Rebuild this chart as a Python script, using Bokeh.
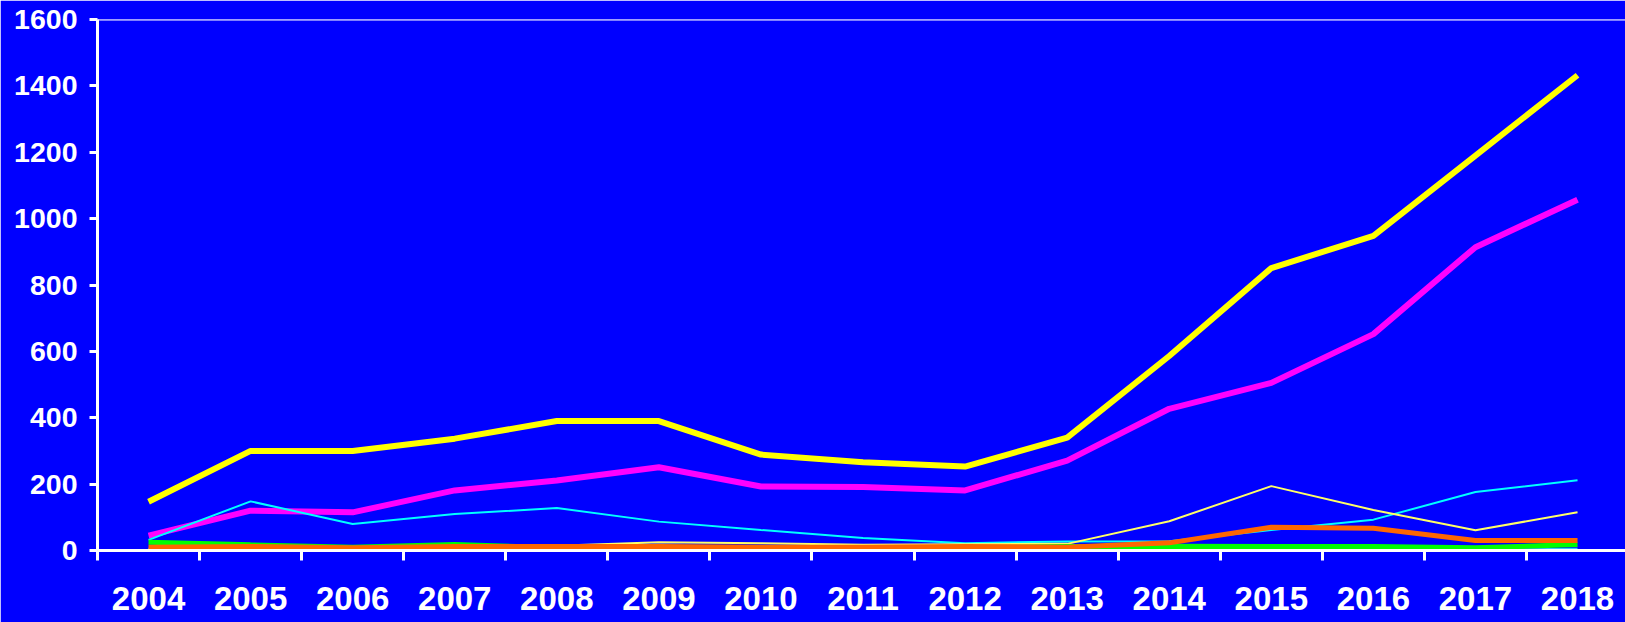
from bokeh.plotting import figure
from bokeh.models import Range1d, FixedTicker, Span
from bokeh.embed import file_html
from bokeh.resources import INLINE

years = [2004, 2005, 2006, 2007, 2008, 2009, 2010, 2011, 2012, 2013, 2014, 2015, 2016, 2017, 2018]
year_labels = [str(y) for y in years]
y_ticks = [0, 200, 400, 600, 800, 1000, 1200, 1400, 1600]

s_yellow = [147, 300, 300, 337, 390, 390, 289, 266, 253, 340, 586, 851, 948, 1190, 1432]
s_magenta = [45, 120, 115, 181, 211, 251, 193, 191, 181, 271, 427, 505, 652, 914, 1057]
s_cyan = [32, 148, 80, 110, 128, 87, 62, 38, 22, 27, 28, 62, 93, 176, 212]
s_pale = [5, 6, 7, 12, 14, 25, 22, 17, 19, 20, 88, 194, 122, 61, 115]
s_orange = [10, 12, 8, 12, 12, 12, 10, 10, 12, 10, 23, 70, 67, 30, 30]
s_green = [25, 17, 10, 18, 8, 5, 5, 6, 8, 12, 13, 12, 12, 8, 18]
s_lightblue = [3, 3, 2, 3, 3, 2, 2, 3, 3, 5, 5, 3, 4, 3, 5]

BG = "#0000FF"
p = figure(width=1625, height=622, output_backend="svg", toolbar_location=None,
           x_range=Range1d(2003.5, 2018.47), y_range=Range1d(0, 1600),
           min_border_left=97, min_border_right=0, min_border_top=19, min_border_bottom=72,
           background_fill_color=BG, border_fill_color=BG)
p.outline_line_color = None
p.grid.visible = False

series = [
    (s_magenta, "#FF00FF", 6),
    (s_yellow, "#FFFF00", 6),
    (s_cyan, "#00FFFF", 2),
    (s_pale, "#FFFF66", 2),
    (s_lightblue, "#33CCFF", 2),
    (s_green, "#00FF00", 5),
    (s_orange, "#FF6600", 5),
]
for vals, col, w in series:
    p.line(years, vals, line_color=col, line_width=w)

p.add_layout(Span(location=1600, dimension="width", line_color="white", line_width=2))

xa = p.xaxis[0]
xa.ticker = FixedTicker(ticks=years, minor_ticks=[y - 0.5 for y in years] + [years[-1] + 0.5])
xa.major_label_overrides = {y: lab for y, lab in zip(years, year_labels)}
xa.major_tick_out = 0
xa.major_tick_in = 0
xa.minor_tick_out = 10
xa.minor_tick_in = 0
xa.minor_tick_line_color = "white"
xa.minor_tick_line_width = 3
xa.major_label_standoff = 26
xa.major_label_text_font_size = "33px"

ya = p.yaxis[0]
ya.ticker = FixedTicker(ticks=y_ticks)
ya.major_tick_out = 8
ya.major_tick_in = 0
ya.minor_tick_out = 0
ya.minor_tick_in = 0
ya.major_label_standoff = 12
ya.major_label_text_font_size = "28.5px"

for ax in (xa, ya):
    ax.axis_line_color = "white"
    ax.axis_line_width = 3
    ax.major_tick_line_color = "white"
    ax.major_tick_line_width = 3
    ax.major_label_text_color = "white"
    ax.major_label_text_font = "Liberation Sans"
    ax.major_label_text_font_style = "bold"

open("out.html", "w").write(file_html(p, INLINE))
